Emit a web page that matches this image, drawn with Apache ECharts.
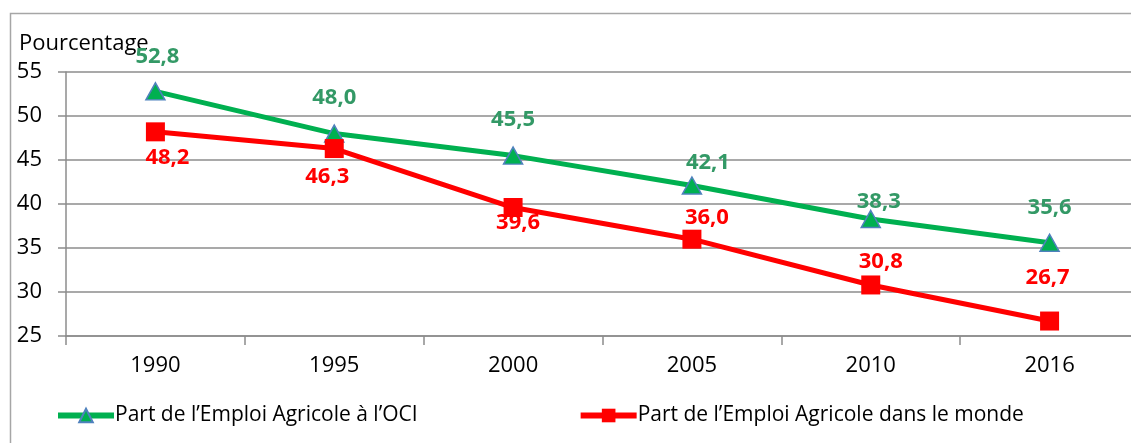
<!DOCTYPE html>
<html>
<head>
<meta charset="utf-8">
<script src="https://cdn.jsdelivr.net/npm/echarts@6/dist/echarts.min.js"></script>
<style>
  html, body { margin: 0; padding: 0; background: #fff; }
  #chart { width: 1131px; height: 443px; }
</style>
</head>
<body>
<div id="chart"></div>
<script>
// données
const years = ['1990', '1995', '2000', '2005', '2010', '2016']
const partOCI = [52.8, 48.0, 45.5, 42.1, 38.3, 35.6]
const partMonde = [48.2, 46.3, 39.6, 36.0, 30.8, 26.7]
const yTicks = [25, 30, 35, 40, 45, 50, 55]

// décalage des étiquettes [dx, dy] par point
const ociOffsets = [[2, -35], [0, -36], [0, -36], [16, -23], [8, -17], [0, -35]]
const mondeOffsets = [[12, 26], [-7, 28], [5, 15], [15, -21], [10, -23], [-2, -43]]

const fmt = v => v.toFixed(1).replace('.', ',')
const font = '"Open Sans", sans-serif'

const chart = echarts.init(document.getElementById('chart'))

const option = {
  animation: false,
  textStyle: { fontFamily: font },
  graphic: [
    {
      type: 'rect',
      shape: { x: 10.5, y: 13.5, width: 1140, height: 450 },
      style: { fill: 'none', stroke: '#a6a6a6', lineWidth: 1.5 },
      silent: true
    },
    {
      type: 'text',
      left: 19, top: 33,
      style: { text: 'Pourcentage', font: '22px ' + font, fill: '#000' }
    }
  ],
  grid: { left: 66, top: 72, width: 1073, bottom: 107, outerBoundsMode: 'none' },
  legend: {
    left: 50, top: 400,
    itemWidth: 56, itemHeight: 17, itemGap: 160,
    lineStyle: { width: 6 },
    textStyle: { fontSize: 21, color: '#000', fontFamily: font, padding: [0, 0, 0, -4] },
    data: ['Part de l\u2019Emploi Agricole à l\u2019OCI', 'Part de l\u2019Emploi Agricole dans le monde']
  },
  xAxis: {
    type: 'category',
    data: years,
    boundaryGap: true,
    axisLine: { lineStyle: { color: '#8c8c8c', width: 1.5 } },
    axisTick: { show: true, length: 9, lineStyle: { color: '#8c8c8c', width: 1.5 } },
    axisLabel: { fontSize: 22, color: '#000', margin: 19 }
  },
  yAxis: {
    type: 'value',
    min: yTicks[0], max: yTicks[yTicks.length - 1], interval: 5,
    axisLine: { show: true, lineStyle: { color: '#8c8c8c', width: 1.5 } },
    axisTick: { show: true, length: 8, lineStyle: { color: '#8c8c8c', width: 1.5 } },
    axisLabel: { fontSize: 22, color: '#000', margin: 24 },
    splitLine: { lineStyle: { color: '#8c8c8c', width: 1.5 } }
  },
  series: [
    {
      name: 'Part de l\u2019Emploi Agricole à l\u2019OCI',
      type: 'line',
      data: partOCI.map((v, i) => ({
        value: v,
        label: { offset: ociOffsets[i] }
      })),
      lineStyle: { color: '#00b050', width: 5 },
      itemStyle: { color: '#00b050', borderColor: '#4f81bd', borderWidth: 1.5 },
      symbol: 'triangle', symbolSize: [19, 17],
      z: 3,
      label: {
        show: true, position: 'inside',
        formatter: p => fmt(p.value),
        fontSize: 22, fontWeight: 'bold', color: '#339966', fontFamily: font
      }
    },
    {
      name: 'Part de l\u2019Emploi Agricole dans le monde',
      type: 'line',
      data: partMonde.map((v, i) => ({
        value: v,
        label: { offset: mondeOffsets[i] }
      })),
      lineStyle: { color: '#ff0000', width: 5 },
      itemStyle: { color: '#ff0000' },
      symbol: 'rect', symbolSize: 19,
      z: 4,
      label: {
        show: true, position: 'inside',
        formatter: p => fmt(p.value),
        fontSize: 22, fontWeight: 'bold', color: '#ff0000', fontFamily: font
      }
    }
  ]
}

option && chart.setOption(option)
</script>
</body>
</html>
